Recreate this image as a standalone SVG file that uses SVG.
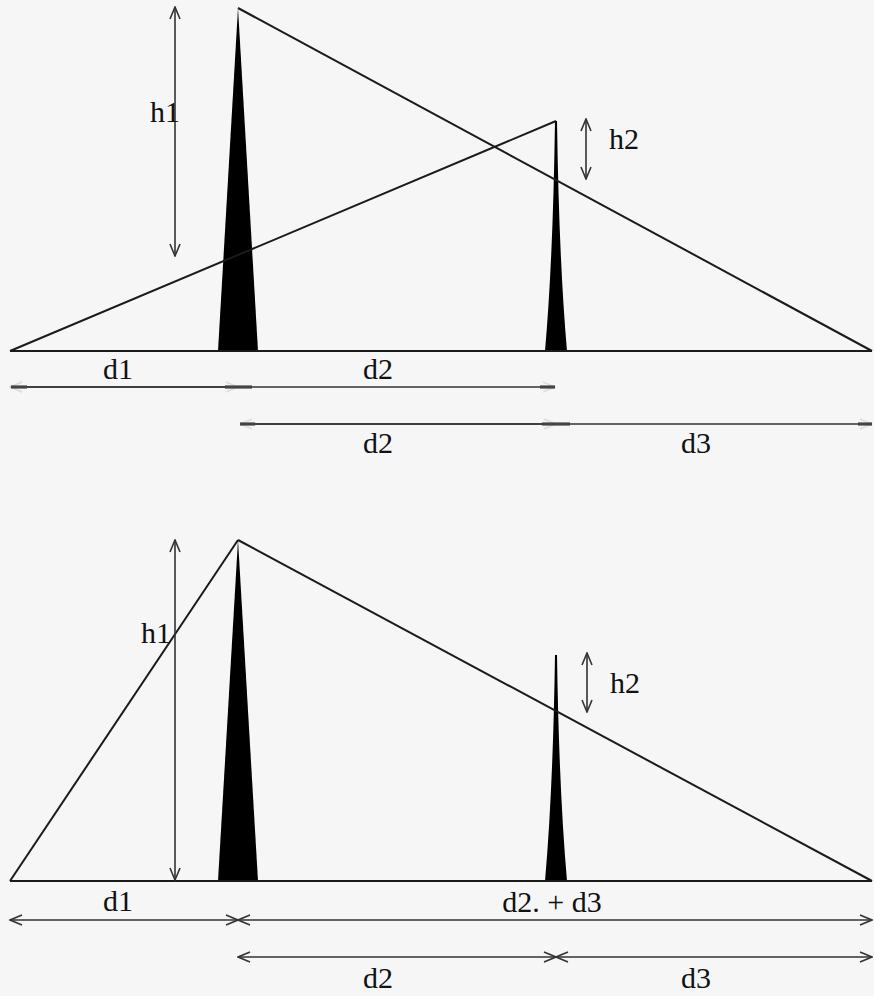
<svg xmlns="http://www.w3.org/2000/svg" width="874" height="996" viewBox="0 0 874 996">
<defs>
<style>
.ln{stroke:#1a1a1a;stroke-width:2;fill:none}
.dim{stroke:#333;stroke-width:1.6;fill:none}
.sp{fill:#000;stroke:none}
.tx{font-family:"Liberation Serif","Times New Roman",serif;font-size:30px;fill:#111;text-anchor:middle}
.tk{stroke:#444;stroke-width:3.2}
</style>
<marker id="a" viewBox="0 0 14 12" refX="13" refY="6" markerWidth="14" markerHeight="12" markerUnits="userSpaceOnUse" orient="auto-start-reverse">
<path d="M1,1 L13,6 L1,11" fill="none" stroke="#333" stroke-width="1.6"/>
</marker>
<marker id="f" viewBox="0 0 14 12" refX="13" refY="6" markerWidth="14" markerHeight="12" markerUnits="userSpaceOnUse" orient="auto-start-reverse">
<path d="M1,1 L13,6 L1,11" fill="none" stroke="#ddd" stroke-width="1.4"/>
</marker>
</defs>
<rect width="874" height="996" fill="#f6f6f6"/>

<g id="top-diagram">
<g id="top-spikes">
<polygon class="sp" points="238,8 258,351 218,351"/>
<path class="sp" d="M555,121 L557,121 Q559,260 567,351 L545,351 Q553,260 555,121 Z"/>
</g>
<g id="top-lines">
<line class="ln" x1="10" y1="351" x2="872" y2="351"/>
<line class="ln" x1="238" y1="8" x2="872" y2="351"/>
<line class="ln" x1="10" y1="351" x2="556" y2="121"/>
</g>
<g id="top-heights">
<line class="dim" x1="175" y1="7" x2="175" y2="256" marker-start="url(#a)" marker-end="url(#a)"/>
<text class="tx" x="165" y="122">h1</text>
<line class="dim" x1="586" y1="119" x2="586" y2="179" marker-start="url(#a)" marker-end="url(#a)"/>
<text class="tx" x="624" y="149">h2</text>
</g>
<g id="top-dims">
<line class="dim" x1="10" y1="387" x2="555" y2="387" marker-start="url(#f)" marker-end="url(#f)"/>
<line class="dim" x1="10" y1="387" x2="238" y2="387" marker-start="url(#f)" marker-end="url(#f)"/>
<line class="tk" x1="11" y1="387" x2="27" y2="387"/>
<line class="tk" x1="225" y1="387" x2="252" y2="387"/>
<line class="tk" x1="540" y1="387" x2="555" y2="387"/>
<line class="dim" x1="240" y1="424" x2="872" y2="424" marker-start="url(#f)" marker-end="url(#f)"/>
<line class="dim" x1="240" y1="424" x2="556" y2="424" marker-end="url(#f)"/>
<line class="tk" x1="240" y1="424" x2="255" y2="424"/>
<line class="tk" x1="542" y1="424" x2="570" y2="424"/>
<line class="tk" x1="858" y1="424" x2="872" y2="424"/>
<text class="tx" x="118" y="379">d1</text>
<text class="tx" x="378" y="379">d2</text>
<text class="tx" x="378" y="453">d2</text>
<text class="tx" x="696" y="453">d3</text>
</g>
</g>

<g id="bottom-diagram">
<g id="bottom-spikes">
<polygon class="sp" points="238,540 258,881 218,881"/>
<path class="sp" d="M555,655 L557,655 Q559,790 567,881 L545,881 Q553,790 555,655 Z"/>
</g>
<g id="bottom-lines">
<line class="ln" x1="10" y1="881" x2="872" y2="881"/>
<line class="ln" x1="10" y1="881" x2="238" y2="540"/>
<line class="ln" x1="238" y1="540" x2="872" y2="881"/>
</g>
<g id="bottom-heights">
<line class="dim" x1="175" y1="540" x2="175" y2="880" marker-start="url(#a)" marker-end="url(#a)"/>
<text class="tx" x="156" y="643">h1</text>
<line class="dim" x1="587" y1="653" x2="587" y2="712" marker-start="url(#a)" marker-end="url(#a)"/>
<text class="tx" x="625" y="693">h2</text>
</g>
<g id="bottom-dims">
<line class="dim" x1="10" y1="920" x2="238" y2="920" marker-start="url(#a)" marker-end="url(#a)"/>
<line class="dim" x1="238" y1="920" x2="872" y2="920" marker-start="url(#a)" marker-end="url(#a)"/>
<line class="dim" x1="238" y1="957" x2="556" y2="957" marker-start="url(#a)" marker-end="url(#a)"/>
<line class="dim" x1="556" y1="957" x2="872" y2="957" marker-start="url(#a)" marker-end="url(#a)"/>
<text class="tx" x="118" y="911">d1</text>
<text class="tx" x="552" y="912">d2. + d3</text>
<text class="tx" x="378" y="988">d2</text>
<text class="tx" x="696" y="988">d3</text>
</g>
</g>
</svg>
